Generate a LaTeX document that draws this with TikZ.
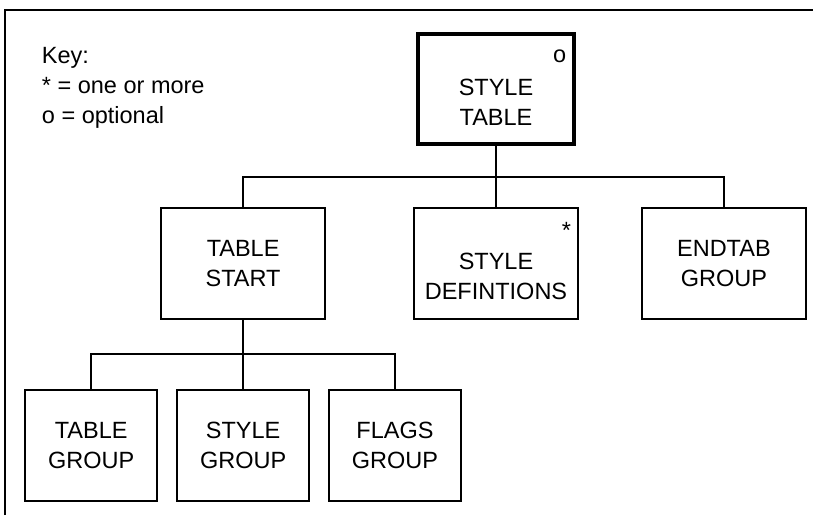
\documentclass[tikz,border=0pt]{standalone}
\usepackage{fontspec}
\setmainfont{Liberation Sans}
\usetikzlibrary{positioning}

\begin{document}
\begin{tikzpicture}[x=1pt, y=1pt, line width=1.9pt,
  main/.style = {draw, rectangle, align=center, inner sep=0pt, minimum height=111pt, font=\fontsize{23.5}{30}\selectfont},
  root/.style = {main, line width=4.5pt, minimum width=156pt, minimum height=110pt},
  mid/.style = {main, minimum width=164pt},
  leaf/.style = {main, minimum width=132pt},
  tag/.style = {inner sep=0pt, anchor=base east, font=\fontsize{23.5}{30}\selectfont},
  keytext/.style = {align=left, inner sep=0pt, anchor=north west, font=\fontsize{23.5}{30}\selectfont}]
\useasboundingbox (0,0) rectangle (813,-515);
\draw (5,-515) -- (5,-10) -- (813,-10);
\node[keytext] (key) at (41,-46.3) {Key:\\* = one or more\\o = optional};
\node[root] (table) at (496,-89) {\phantom{o}\\STYLE\\TABLE};
\node[mid] (defs) [below=61pt of table] {\phantom{o}\\STYLE\\DEFINTIONS};
\node[mid] (start) [left=87pt of defs] {TABLE\\START};
\node[mid] (endtab) [right=62pt of defs] {ENDTAB\\GROUP};
\node[leaf] (sgroup) [below=69pt of start] {STYLE\\GROUP};
\node[leaf] (tgroup) [left=18pt of sgroup] {TABLE\\GROUP};
\node[leaf] (fgroup) [right=18pt of sgroup] {FLAGS\\GROUP};
\node[tag] (optmark) at ([xshift=-9pt, yshift=-31pt]table.north east) {o};
\node[tag] (moremark) at ([xshift=-7pt, yshift=-31pt]defs.north east) {*};
\coordinate[below=31pt of table.south] (bus1);
\coordinate[below=34pt of start.south] (bus2);
\draw (table) -- (bus1);
\draw (bus1) -| (start);
\draw (bus1) -- (defs);
\draw (bus1) -| (endtab);
\draw (start) -- (bus2);
\draw (bus2) -| (tgroup);
\draw (bus2) -- (sgroup);
\draw (bus2) -| (fgroup);
\end{tikzpicture}
\end{document}
